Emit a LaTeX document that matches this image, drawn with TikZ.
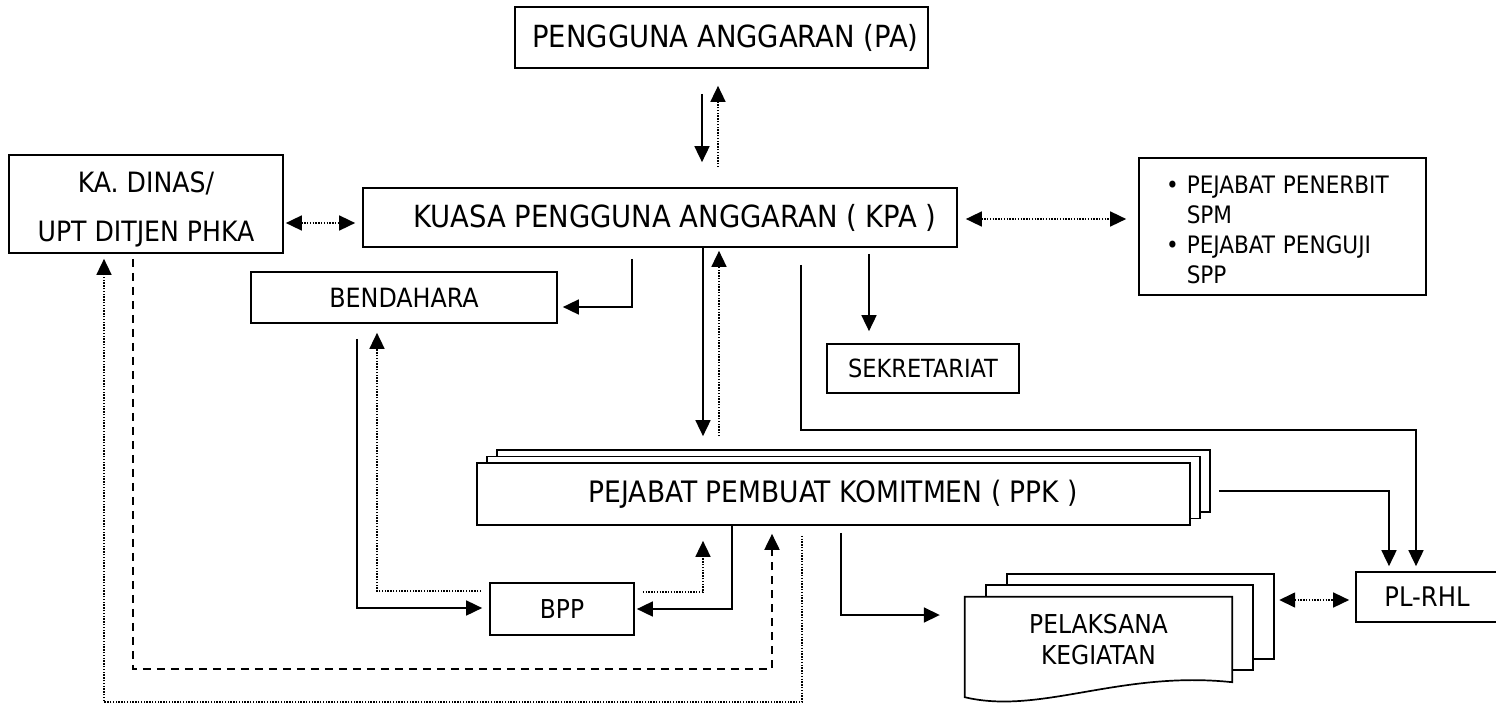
\documentclass[tikz,border=0pt]{standalone}
\usepackage{fontspec}
\setmainfont{DejaVu Sans Condensed}
\usetikzlibrary{arrows.meta,calc,shadows,backgrounds}
\begin{document}
\begin{tikzpicture}[x=1pt,y=-1pt,
  >={Triangle[length=16pt,width=15pt]},
  box/.style={draw, line width=1.7pt, fill=white, inner sep=0pt, align=center},
  big/.style={font=\fontsize{30.5}{36}\selectfont},
  solidarr/.style={line width=1.7pt, ->},
  dotarr/.style={line width=1.6pt, dash pattern=on 1.4pt off 1.4pt, ->},
  dotdbl/.style={line width=1.6pt, dash pattern=on 1.4pt off 1.4pt, <->},
  dasharr/.style={line width=2pt, dash pattern=on 8pt off 6pt, ->}
]
\useasboundingbox (0,0) rectangle (1496,704);

% boxes
\node[box, big, minimum width=413pt, minimum height=61pt] (pa) at (721.5,37.5) {\hspace*{8pt}PENGGUNA ANGGARAN (PA)};
\node[box, big, minimum width=594pt, minimum height=59pt] (kpa) at (660,217.5) {\hspace*{30pt}KUASA PENGGUNA ANGGARAN ( KPA )};
\node[box, font=\fontsize{28}{49}\selectfont, minimum width=274pt, minimum height=98pt] (ka) at (146,204) {\rule{0pt}{31pt}KA. DINAS/\\UPT DITJEN PHKA};
\node[box, font=\fontsize{24}{30}\selectfont, minimum width=287pt, minimum height=137pt, text width=233pt, inner xsep=27pt, align=left] (pej) at (1282.5,226.5)
  {\vspace*{10pt}\par\noindent\begin{tabular}{@{}l@{\hspace{8pt}}l@{}}\textbullet & PEJABAT PENERBIT\\ & SPM\\ \textbullet & PEJABAT PENGUJI\\ & SPP\end{tabular}};
\node[box, font=\fontsize{26.5}{32}\selectfont, minimum width=306pt, minimum height=51pt] (ben) at (404,297.5) {BENDAHARA};
\node[box, font=\fontsize{25}{30}\selectfont, minimum width=192pt, minimum height=49pt] (sek) at (923,368.5) {SEKRETARIAT};
\node[box, font=\fontsize{29.5}{35}\selectfont, minimum width=713pt, minimum height=62pt,
  double copy shadow={shadow xshift=10pt, shadow yshift=6.5pt, line width=1.7pt, draw=black, fill=white}] (ppk) at (833.5,494) {PEJABAT PEMBUAT KOMITMEN ( PPK )};
\node[box, font=\fontsize{26}{31}\selectfont, minimum width=144pt, minimum height=52pt] (bpp) at (562,609) {BPP};
\node[inner sep=0pt, align=center, font=\fontsize{26}{31}\selectfont, minimum width=267pt, minimum height=85pt] (pel) at (1098.5,639.5) {PELAKSANA\\KEGIATAN};
\node[box, font=\fontsize{27}{32}\selectfont, minimum width=142pt, minimum height=50pt] (plrhl) at (1427,597) {PL-RHL};

\begin{pgfonlayer}{background}
  \draw[line width=1.7pt, fill=white] ($(pel.north west)+(42,-23)$) rectangle ($(pel.south east)+(42,-23)$);
  \draw[line width=1.7pt, fill=white] ($(pel.north west)+(21,-12)$) rectangle ($(pel.south east)+(21,-12)$);
  \draw[line width=1.7pt, fill=white] (pel.north west) -- (pel.north east) -- (pel.south east)
     .. controls ($(pel.south east)+(-112,-12)$) and ($(pel.south east)+(-192,33)$) .. ($(pel.south west)+(0,15)$) -- cycle;
\end{pgfonlayer}

% named corner points
\coordinate (k2p) at (1416,430);
\coordinate (dcorner) at (772,669);
\coordinate (bcorner) at (802,702);

% connectors
\draw[solidarr] ($(pa.south)+(-19.5,25)$) -- ($(kpa.north)+(42,-25)$);
\draw[dotarr] ($(kpa.north)+(58,-20)$) -- ($(pa.south)+(-3.5,17)$);
\draw[dotdbl] ($(ka.east)+(2,19)$) -- ($(kpa.west)+(-7,5.5)$);
\draw[dotdbl] ($(kpa.east)+(8,1.5)$) -- ($(pej.west)+(-12,-7.5)$);
\draw[solidarr] ($(kpa.south)+(-28,11)$) |- ($(ben.east)+(5,9.5)$);
\draw[solidarr] ($(kpa.south)+(43,0)$) -- ($(ppk.north)+(-130.5,-26)$);
\draw[dotarr] ($(ppk.north)+(-114.5,-26)$) -- ($(kpa.south)+(59,3)$);
\draw[solidarr] ($(kpa.south)+(209,6)$) -- ($(sek.north)+(-54,-12)$);
\draw[solidarr] ($(kpa.south)+(141,17)$) |- (k2p) -- ($(plrhl.north)+(-11,-5)$);
\draw[solidarr] ($(ppk.east)+(28,-3)$) -| ($(plrhl.north)+(-38,-5)$);
\draw[solidarr] ($(ppk.south)+(7.5,7)$) |- ($(pel.west)+(-25,-24.5)$);
\draw[dotdbl] ($(pel.east)+(47,-39.5)$) -- ($(plrhl.west)+(-6,3)$);
\draw[solidarr] ($(ben.south)+(-47,15)$) |- ($(bpp.west)+(-7,-1)$);
\draw[dotarr] ($(bpp.west)+(-8,-18)$) -| ($(ben.south)+(-27,9)$);
\draw[solidarr] ($(ppk.south)+(-101.5,0)$) |- ($(bpp.east)+(2,0)$);
\draw[dotarr] ($(bpp.east)+(8,-17)$) -| ($(ppk.south)+(-130.5,15)$);
\draw[dasharr] ($(ka.south)+(-13,5)$) |- (dcorner) -- ($(ppk.south)+(-61.5,8)$);
\draw[dotarr] ($(ppk.south)+(-31.5,10)$) -- (bcorner) -| ($(ka.south)+(-42,5)$);
\end{tikzpicture}
\end{document}
